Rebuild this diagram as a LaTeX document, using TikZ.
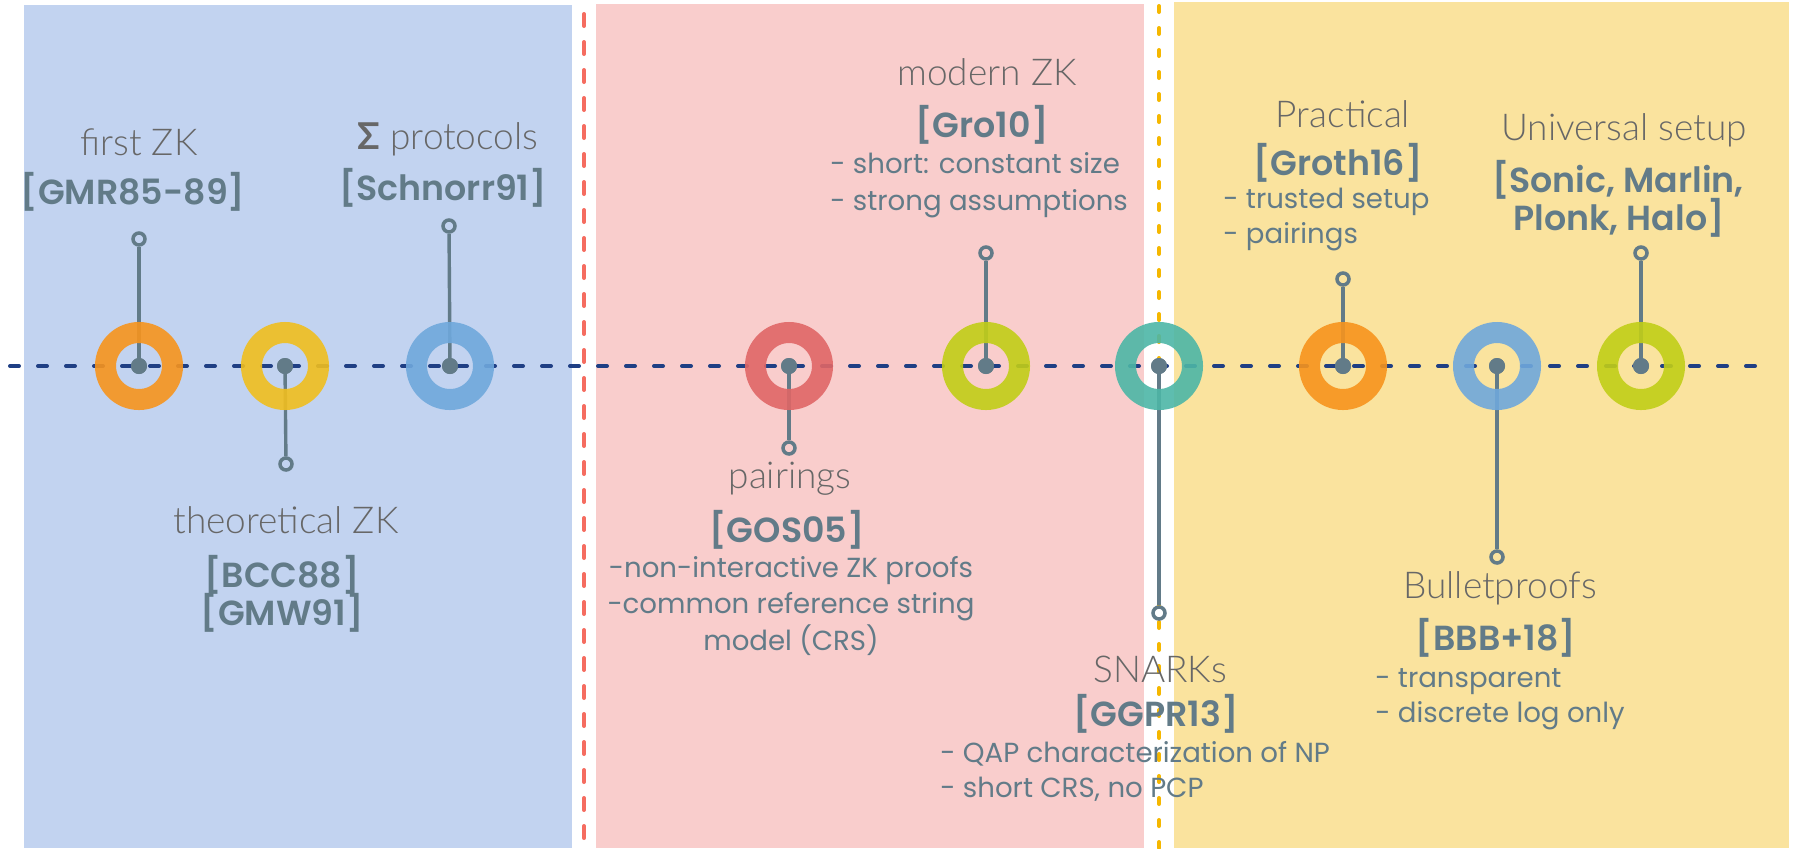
\documentclass[tikz,border=0pt]{standalone}
\usepackage{fontspec}
\setmainfont{Lato}
\newfontfamily\titlefont{Lato Light}
\newfontfamily\reffont{Poppins SemiBold}
\newfontfamily\bodyfont{Poppins}
\newfontfamily\sigmafont{Lato Bold}
\definecolor{bluebg}{HTML}{C2D3F0}
\definecolor{pinkbg}{HTML}{F9CDCC}
\definecolor{yellowbg}{HTML}{FAE39E}
\definecolor{navy}{HTML}{1F3F84}
\definecolor{slate}{HTML}{627B88}
\definecolor{titlegray}{HTML}{676767}
\definecolor{redline}{HTML}{F56C60}
\definecolor{yelline}{HTML}{F5B700}
\definecolor{ringorange}{HTML}{F7941D}
\definecolor{ringyellow}{HTML}{F0BE1E}
\definecolor{ringblue}{HTML}{6FA8DC}
\definecolor{ringred}{HTML}{E06666}
\definecolor{ringlime}{HTML}{C1CE17}
\definecolor{ringteal}{HTML}{4DB6A6}
\tikzset{
  ringnode/.style={circle, draw=#1, line width=10.5pt, minimum size=33.5pt, inner sep=0pt, draw opacity=0.9},
  dotnode/.style={circle, fill=slate, minimum size=8pt, inner sep=0pt},
  endnode/.style={circle, draw=slate, line width=1.75pt, minimum size=6pt, inner sep=0pt},
  stem/.style={draw=slate, line width=1.7pt},
  titletext/.style={font=\titlefont\fontsize{18.5}{22}\selectfont, text=titlegray, inner sep=0pt, anchor=base},
  reftext/.style={font=\reffont\fontsize{17.4}{22}\selectfont, text=slate, inner sep=0pt, anchor=base},
  bodytext/.style={font=\bodyfont\fontsize{13.8}{18}\selectfont, text=slate, inner sep=0pt, anchor=base},
  bodyleft/.style={bodytext, anchor=base west},
  timeline/.style={draw=navy, line width=2pt, line cap=round, dash pattern=on 4.5pt off 9.5pt},
  reddash/.style={draw=redline, line width=2pt, line cap=round, dash pattern=on 6pt off 8pt},
  yeldash/.style={draw=yelline, line width=2pt, line cap=round, dash pattern=on 3pt off 8pt}
}
\begin{document}
\begin{tikzpicture}[x=0.5pt,y=-0.5pt]
\useasboundingbox (0,0) rectangle (1793,848);
% panels
\fill[bluebg] (24,5) rectangle (572,848);
\fill[pinkbg] (596,4) rectangle (1144,848);
\fill[yellowbg] (1174,2) rectangle (1789,848);
% era separators
\coordinate (rtop) at (584,14);
\coordinate (rbot) at (584,848);
\coordinate (ytop) at (1159,6);
\coordinate (ybot) at (1159,848);
\draw[reddash] (rtop) -- (rbot);
\draw[yeldash] (ytop) -- (ybot);
% timeline
\coordinate (tlL) at (10,366);
\coordinate (tlR) at (1761,366);
\draw[timeline] (tlL) -- (tlR);
% centre dots (named) and stem ends
\node[dotnode] (d1) at (139,366) {};
\node[dotnode] (d2) at (285,366) {};
\node[dotnode] (d3) at (450,366) {};
\node[dotnode] (d4) at (789,366) {};
\node[dotnode] (d5) at (986,366) {};
\node[dotnode] (d6) at (1159,366) {};
\node[dotnode] (d7) at (1343,366) {};
\node[dotnode] (d8) at (1497,366) {};
\node[dotnode] (d9) at (1641,366) {};
\node[endnode] (e1) at (139,239) {};
\node[endnode] (e2) at (286,464) {};
\node[endnode] (e3) at (449,226) {};
\node[endnode] (e4) at (789,448) {};
\node[endnode] (e5) at (986,253) {};
\node[endnode] (e6) at (1159,613) {};
\node[endnode] (e7) at (1343,279) {};
\node[endnode] (e8) at (1497,557) {};
\node[endnode] (e9) at (1641,253) {};
\foreach \i in {1,...,9} { \draw[stem] (d\i.center) -- (e\i); }
% rings
\node[ringnode=ringorange] (g1) at (d1) {};
\node[ringnode=ringyellow] (g2) at (d2) {};
\node[ringnode=ringblue] (g3) at (d3) {};
\node[ringnode=ringred] (g4) at (d4) {};
\node[ringnode=ringlime] (g5) at (d5) {};
\node[ringnode=ringteal] (g6) at (d6) {};
\node[ringnode=ringorange] (g7) at (d7) {};
\node[ringnode=ringblue] (g8) at (d8) {};
\node[ringnode=ringlime] (g9) at (d9) {};
\foreach \i in {1,...,9} { \node[dotnode] at (d\i) {}; }
% texts
\node[titletext] (t1) at (139,155) {first ZK};
\node[reftext] (r1) at (133,204) {[GMR85-89]};
\node[titletext] (t2) at (286,533) {theoretical ZK};
\node[reftext] (r2a) at (282,587) {[BCC88]};
\node[reftext] (r2b) at (282,625) {[GMW91]};
\node[titletext] (t3) at (448,149) {{\sigmafont Σ} protocols};
\node[reftext] (r3) at (443,200) {[Schnorr91]};
\node[titletext] (t4) at (790,488) {pairings};
\node[reftext] (r4) at (787,542) {[GOS05]};
\node[bodytext] (b4a) at (791,577) {-non-interactive ZK proofs};
\node[bodytext] (b4b) at (791,613) {-common reference string};
\node[bodytext] (b4c) at (791,650) {model (CRS)};
\node[titletext] (t5) at (987,85) {modern ZK};
\node[reftext] (r5) at (982,137) {[Gro10]};
\node[bodyleft] (b5a) at (830,173) {- short: constant size};
\node[bodyleft] (b5b) at (830,210) {- strong assumptions};
\node[titletext] (t6) at (1160,682) {SNARKs};
\node[reftext] (r6) at (1156,726) {[GGPR13]};
\node[bodyleft] (b6a) at (940,762) {- QAP characterization of NP};
\node[bodyleft] (b6b) at (940,797) {- short CRS, no PCP};
\node[titletext] (t7) at (1343,127) {Practical};
\node[reftext] (r7) at (1338,175) {[Groth16]};
\node[bodyleft] (b7a) at (1223,208) {- trusted setup};
\node[bodyleft] (b7b) at (1223,243) {- pairings};
\node[titletext] (t8) at (1500,598) {Bulletproofs};
\node[reftext] (r8) at (1496,650) {[BBB+18]};
\node[bodyleft] (b8a) at (1375,687) {- transparent};
\node[bodyleft] (b8b) at (1375,722) {- discrete log only};
\node[titletext] (t9) at (1624,140) {Universal setup};
\node[reftext] (r9a) at (1618,192) {[Sonic, Marlin,};
\node[reftext] (r9b) at (1619,230) {Plonk, Halo]};
\end{tikzpicture}
\end{document}
